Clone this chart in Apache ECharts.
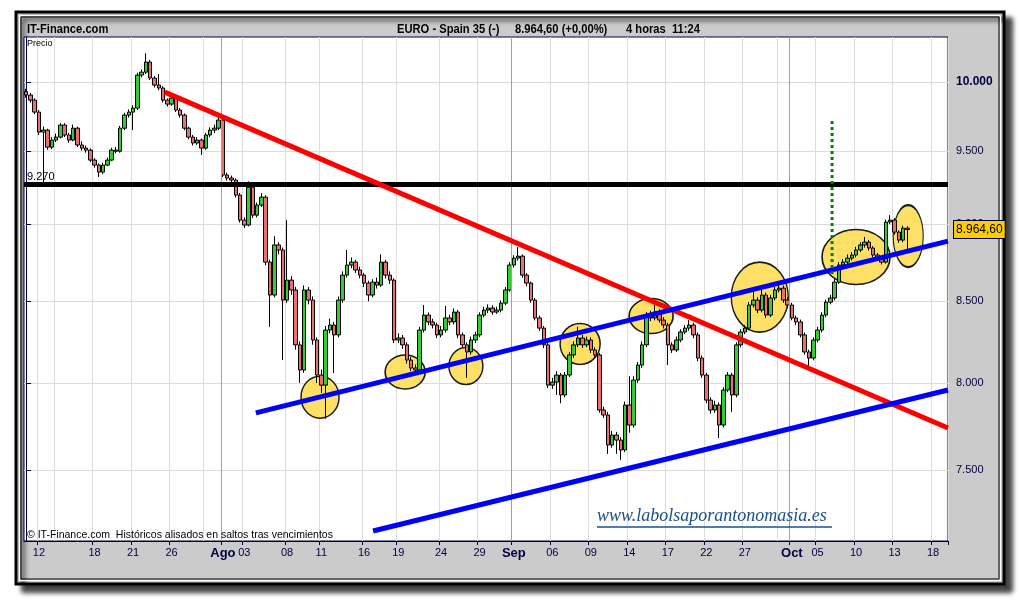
<!DOCTYPE html>
<html><head><meta charset="utf-8">
<script src="https://cdn.jsdelivr.net/npm/echarts@6/dist/echarts.min.js"></script>
<style>html,body{margin:0;padding:0;background:#fff;}#c{width:1020px;height:600px;}</style>
</head><body><div id="c"></div>
<script>
// ---- data (4-hour bars, 3 slots per trading day) ----
const slotCount = 216;
const tickSlots  = [3, 16, 25, 34, 46, 51, 61, 69, 79, 87, 97, 106, 114, 123, 132, 141, 150, 159, 168, 179, 185, 194, 203, 212];
const tickLabels = ['12','18','21','26','Ago','03','08','11','16','19','24','29','Sep','06','09','14','17','22','27','Oct','05','10','13','18'];
const gridOnlySlots = [7, 42, 176];
const monthLabels = ['Ago', 'Sep', 'Oct'];

const opens = [9930,9904,9867,9780,9636,9650,9529,9579,9600,9686,
9615,9579,9664,9544,9522,9508,9438,9403,9354,9403,
9438,9508,9500,9664,9758,9780,9809,10052,10074,10150,
10030,9978,9956,9867,9838,9882,9795,9758,9664,9600,
9558,9579,9522,9615,9650,9664,9722,9334,9313,9299,
9196,9027,8994,9250,9060,9128,9182,8750,8539,8862,
8829,8507,8634,8571,8229,8077,8571,8507,8259,8047,
7987,8320,8351,8290,8507,8666,8731,8750,8699,8666,
8615,8539,8621,8602,8750,8666,8634,8259,8271,8229,
8137,8089,8077,8320,8413,8370,8351,8290,8320,8395,
8370,8432,8290,8229,8186,8259,8290,8413,8444,8457,
8432,8444,8488,8571,8731,8776,8789,8666,8615,8507,
8395,8332,8229,7987,8005,8047,7929,8047,8168,8229,
8271,8229,8259,8198,8168,7841,7812,7640,7697,7668,
7612,7870,7754,8017,8107,8229,8413,8395,8432,8382,
8351,8229,8198,8259,8308,8332,8351,8290,8149,8047,
7899,7841,7870,7754,7958,8047,7929,8229,8308,8332,
8476,8507,8444,8539,8413,8520,8571,8583,8507,8476,
8395,8370,8290,8186,8149,8259,8320,8413,8494,8520,
8621,8731,8750,8776,8796,8829,8862,8881,8842,8796,
8776,8750,9014,9027,8947,8894,8973];

const closes = [9904,9867,9780,9636,9650,9529,9579,9600,9686,9615,
9579,9664,9544,9522,9508,9438,9403,9354,9403,9438,
9508,9500,9664,9758,9780,9809,10052,10074,10150,10030,
9978,9956,9867,9838,9882,9795,9758,9664,9600,9558,
9579,9522,9615,9650,9664,9722,9334,9313,9299,9196,
9027,8994,9250,9060,9128,9182,8750,8539,8862,8829,
8507,8634,8571,8229,8077,8571,8507,8259,8047,7987,
8320,8351,8290,8507,8666,8731,8750,8699,8666,8615,
8539,8621,8602,8750,8666,8634,8259,8271,8229,8137,
8089,8077,8320,8413,8370,8351,8290,8320,8395,8370,
8432,8290,8229,8186,8259,8290,8413,8444,8457,8432,
8444,8488,8571,8731,8776,8789,8666,8615,8507,8395,
8332,8229,7987,8005,8047,7929,8047,8168,8229,8271,
8229,8259,8198,8168,7841,7812,7640,7697,7668,7612,
7870,7754,8017,8107,8229,8413,8395,8432,8382,8351,
8229,8198,8259,8308,8332,8351,8290,8149,8047,7899,
7841,7870,7754,7958,8047,7929,8229,8308,8332,8476,
8507,8444,8539,8413,8520,8571,8583,8507,8476,8395,
8370,8290,8186,8149,8259,8320,8413,8494,8520,8621,
8731,8750,8776,8796,8829,8862,8881,8842,8796,8776,
8750,9014,9027,8947,8894,8973,8964.6];

const highs = [9950,9920,9880,9795,9675,9660,9600,9625,9700,9700,
9630,9690,9675,9570,9540,9520,9450,9415,9420,9455,
9525,9530,9680,9775,9800,9830,10070,10095,10216,10165,
10045,10060,9970,9880,9900,9890,9810,9770,9675,9615,
9600,9590,9630,9670,9690,9758,9735,9350,9330,9310,
9210,9045,9290,9260,9145,9210,9195,8765,8920,8880,
8845,9027,8660,8590,8250,8600,8590,8530,8275,8080,
8345,8390,8370,8530,8690,8829,8780,8765,8720,8680,
8630,8640,8650,8800,8765,8690,8645,8300,8290,8245,
8155,8110,8340,8476,8430,8390,8365,8345,8470,8415,
8455,8445,8305,8245,8280,8310,8430,8465,8480,8475,
8465,8505,8590,8750,8795,8848,8800,8680,8625,8520,
8410,8345,8240,8030,8070,8060,8065,8185,8250,8340,
8290,8280,8275,8215,8180,7860,7830,7720,7715,7685,
7890,8040,8040,8125,8250,8432,8440,8476,8450,8400,
8365,8245,8280,8325,8350,8382,8365,8305,8165,8060,
7915,7895,7885,7975,8065,8060,8245,8325,8350,8495,
8560,8525,8590,8555,8540,8590,8615,8600,8525,8490,
8410,8385,8305,8200,8275,8340,8430,8510,8540,8640,
8750,8770,8800,8815,8850,8880,8915,8895,8855,8810,
8790,9030,9060,9040,8960,8990,8985];

const lows = [9885,9850,9765,9615,9268,9510,9515,9565,9590,9600,
9560,9570,9530,9505,9490,9425,9385,9320,9340,9395,
9430,9485,9490,9650,9740,9650,9795,10035,10060,10015,
9960,9940,9850,9820,9825,9780,9740,9650,9585,9540,
9545,9474,9510,9600,9630,9650,9320,9295,9280,9180,
9010,8975,8985,9040,9045,9115,8730,8340,8525,8800,
8137,8490,8540,8200,8000,8060,8480,8230,8000,7940,
7790,8300,8059,8275,8490,8650,8710,8680,8645,8590,
8500,8525,8580,8590,8645,8610,8240,8240,8205,8115,
8070,8055,8065,8305,8350,8330,8270,8275,8305,8350,
8355,8270,8210,8030,8170,8240,8275,8400,8425,8415,
8420,8430,8475,8560,8715,8760,8650,8595,8490,8380,
8315,8210,7970,7965,7929,7880,7915,8035,8150,8215,
8210,8215,8180,8150,7825,7795,7590,7625,7590,7555,
7600,7710,7740,8000,8090,8215,8375,8380,8365,8330,
8107,8180,8185,8245,8295,8315,8270,8130,8030,7880,
7820,7825,7680,7740,7945,7830,7915,8215,8295,8320,
8460,8425,8430,8395,8400,8505,8555,8490,8455,8380,
8350,8275,8170,8090,8135,8245,8305,8400,8480,8505,
8610,8715,8735,8760,8780,8815,8845,8825,8780,8760,
8735,8740,9000,8930,8875,8880,8829];

const resistanceLevel = 9270;
const lastPrice = 8964.6;
const yTickValues = [7500, 8000, 8500, 9000, 9500, 10000];

// annotations in data coordinates: [slot, price]
const redTrend   = [[32.4, 9926], [215.5, 7737]];
const blueUpper  = [[53.7, 7824], [215.5, 8887]];
const blueLower  = [[81.1, 7168], [215.5, 7958]];
const greenTarget = [[188.4, 9715], [188.4, 8666]];
const circleSlots  = [68.7, 88.6, 102.8, 129.5, 146.1, 171.5, 194.0, 206.2];
const circlePrices = [7916, 8065, 8101, 8235, 8407, 8526, 8783, 8920];
const circleSizes = [[38,42],[40,34],[34,37],[40,41],[44,35],[57,70],[68,55],[30,62]];

// ---- build ----
const labelMap = {};
tickSlots.forEach((s, i) => { labelMap[s] = tickLabels[i]; });
const gridSet = new Set(tickSlots.concat(gridOnlySlots));
const categories = Array.from({length: slotCount}, (_, i) => labelMap[i] !== undefined ? labelMap[i] : ' ' + i);
const candleData = opens.map((o, i) => [o, closes[i], lows[i], highs[i]]);
const circleData = circleSlots.map((s, i) => [s, circlePrices[i]]);
const monthBoundaries = tickSlots.filter((s, i) => monthLabels.includes(tickLabels[i])).map(s => s - 0.5);

const SANS = "'Liberation Sans',Arial,sans-serif";
const NAVY = '#000040';

const chart = echarts.init(document.getElementById('c'), null, {renderer: 'canvas'});
const trend = (name, data, color, width, type) => ({
  name, type: 'line', xAxisIndex: 1, yAxisIndex: 0, data, symbol: 'none', silent: true, z: 6,
  lineStyle: {color, width, type: type || 'solid', cap: 'butt'}, animation: false
});
const titleText = (x, text) => ({type: 'text', z: 50, x, y: 29, scaleX: 0.86,
  style: {text, font: 'bold 13px ' + SANS, fill: '#000', align: 'left', verticalAlign: 'middle'}});

chart.setOption({
  animation: false,
  backgroundColor: '#ffffff',
  graphic: [
    {type: 'rect', z: -20, shape: {x: 16, y: 12, width: 988, height: 572},
      style: {fill: '#cbcbcb', stroke: '#000', lineWidth: 3, shadowBlur: 5, shadowOffsetX: 7, shadowOffsetY: 7, shadowColor: 'rgba(0,0,0,0.75)'}},
    {type: 'rect', z: -19, shape: {x: 19.5, y: 15.5, width: 981, height: 565}, style: {fill: null, stroke: '#fff', lineWidth: 1}},
    {type: 'rect', z: -19, shape: {x: 21, y: 17, width: 978, height: 562}, style: {fill: null, stroke: '#000', lineWidth: 1}},
    titleText(27, 'IT-Finance.com'),
    titleText(397, 'EURO - Spain 35 (-)'),
    titleText(515, '8.964,60 (+0,00%)'),
    titleText(626, '4 horas  11:24'),
    {type: 'text', z: 50, x: 27, y: 44, style: {text: 'Precio', font: '9px ' + SANS, fill: '#000', verticalAlign: 'middle'}},
    {type: 'text', z: 50, x: 27, y: 535, style: {text: '\u00a9 IT-Finance.com  Hist\u00f3ricos alisados en saltos tras vencimientos', font: '10.5px ' + SANS, fill: '#000', verticalAlign: 'middle'}},
    {type: 'text', z: 50, x: 597, y: 516, style: {text: 'www.labolsaporantonomasia.es', font: 'italic 18px "Liberation Serif","DejaVu Serif",serif', fill: '#1c4f8a', verticalAlign: 'middle'}},
    {type: 'line', z: 50, shape: {x1: 597, y1: 527, x2: 832, y2: 527}, style: {stroke: '#1c4f8a', lineWidth: 1.5}}
  ],
  grid: {left: 24, right: 72, top: 37, bottom: 59, show: true, backgroundColor: '#ffffff', borderColor: NAVY, borderWidth: 1},
  xAxis: [
    {type: 'category', data: categories, boundaryGap: true, gridIndex: 0,
      axisLine: {show: true, lineStyle: {color: NAVY, width: 1}},
      axisTick: {show: true, length: 4, interval: (i) => labelMap[i] !== undefined, lineStyle: {color: NAVY}},
      axisLabel: {show: true, interval: (i) => labelMap[i] !== undefined, margin: 6, color: NAVY,
        fontFamily: SANS, fontSize: 11,
        formatter: (v) => monthLabels.includes(v) ? '{m|' + v + '}' : v,
        rich: {m: {fontWeight: 'bold', fontSize: 13, color: NAVY, fontFamily: SANS}}},
      splitLine: {show: true, interval: (i) => gridSet.has(i), lineStyle: {color: '#dcdcdc', width: 1}}},
    {type: 'value', min: -0.5, max: slotCount - 0.5, show: false, gridIndex: 0}
  ],
  yAxis: [{
    type: 'log', logBase: 10, min: 7115, max: 10340, position: 'right',
    axisLine: {show: true, lineStyle: {color: NAVY}},
    axisTick: {show: true, length: 5, customValues: yTickValues, lineStyle: {color: NAVY}},
    axisLabel: {show: true, customValues: yTickValues, margin: 8, color: NAVY, fontFamily: SANS, fontSize: 11,
      formatter: (v) => { const s = (v / 1000).toFixed(3); return v >= 10000 ? '{b|' + s + '}' : s; },
      rich: {b: {fontWeight: 'bold', fontSize: 12, color: NAVY, fontFamily: SANS}}},
    splitLine: {show: true, lineStyle: {color: '#dcdcdc', width: 1}}
  }],
  series: [
    {type: 'scatter', xAxisIndex: 1, yAxisIndex: 0, z: 1, silent: true, data: circleData,
      symbol: 'circle', symbolSize: (val, p) => circleSizes[p.dataIndex],
      itemStyle: {color: '#ffe066', borderColor: '#1a1a1a', borderWidth: 1.5, opacity: 1},
      markLine: {silent: true, symbol: 'none', label: {show: false},
        lineStyle: {color: '#a0a0a0', width: 1, type: 'solid'},
        data: monthBoundaries.map(b => ({xAxis: b}))}},
    {type: 'candlestick', xAxisIndex: 0, yAxisIndex: 0, z: 2, data: candleData, barWidth: 4,
      itemStyle: {color: '#33cc33', color0: '#e87070', borderColor: '#000', borderColor0: '#000', borderWidth: 1},
      markLine: {silent: true, symbol: 'none', animation: false,
        data: [
          {yAxis: resistanceLevel, lineStyle: {color: '#000', width: 5, type: 'solid'},
            label: {show: true, position: 'insideStartTop', formatter: '9.270', color: '#000', fontSize: 11, fontFamily: SANS, distance: [3, 2]}},
          {yAxis: lastPrice, lineStyle: {color: 'rgba(0,0,0,0)', width: 1},
            label: {show: true, position: 'end', distance: 6, formatter: '8.964,60', color: '#000', fontSize: 12, fontFamily: SANS,
              backgroundColor: '#ffcc00', borderColor: NAVY, borderWidth: 1, padding: [3, 2, 2, 2]}}
        ]}},
    trend('red', redTrend, '#ff0000', 5),
    trend('blueUpper', blueUpper, '#0000ff', 5),
    trend('blueLower', blueLower, '#0000ff', 5),
    trend('green', greenTarget, '#008000', 3, [3, 3])
  ]
});
</script></body></html>
